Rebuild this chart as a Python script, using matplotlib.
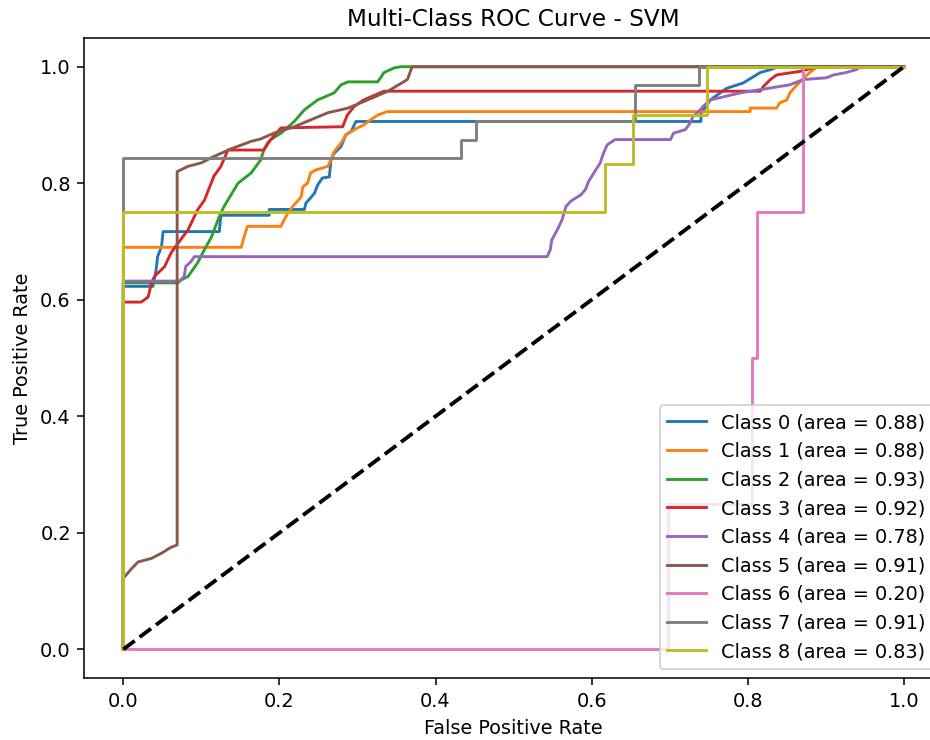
import matplotlib
matplotlib.use("Agg")
import matplotlib.pyplot as plt

# ROC points, one pair of lists per class
fpr0 = [0, 0, 0.038, 0.042, 0.044, 0.049, 0.051, 0.123, 0.125, 0.187, 0.187, 0.232, 0.234, 0.24, 0.245, 0.249,
        0.255, 0.264, 0.266, 0.27, 0.279, 0.285, 0.292, 0.298, 0.74, 0.74, 0.752, 0.773, 0.794, 0.816, 0.829, 0.84, 1.0]
tpr0 = [0, 0.623, 0.623, 0.651, 0.674, 0.691, 0.717, 0.717, 0.745, 0.745, 0.755, 0.755, 0.766, 0.775, 0.783, 0.797,
        0.809, 0.811, 0.84, 0.851, 0.863, 0.883, 0.889, 0.906, 0.906, 0.92, 0.943, 0.963, 0.972, 0.99, 0.995, 1.0, 1.0]

fpr1 = [0, 0, 0.151, 0.155, 0.159, 0.202, 0.206, 0.211, 0.217, 0.223, 0.228, 0.23, 0.236, 0.24, 0.247, 0.262, 0.266,
        0.27, 0.279, 0.285, 0.3, 0.308, 0.317, 0.326, 0.338, 0.803, 0.803, 0.837, 0.841, 0.85, 0.854, 0.861, 0.867,
        0.876, 0.884, 0.89, 1.0]
tpr1 = [0, 0.69, 0.69, 0.709, 0.726, 0.726, 0.737, 0.749, 0.76, 0.769, 0.777, 0.794, 0.80, 0.818, 0.823, 0.829, 0.84,
        0.854, 0.869, 0.883, 0.895, 0.90, 0.909, 0.917, 0.923, 0.923, 0.929, 0.929, 0.938, 0.943, 0.955, 0.966, 0.974,
        0.986, 0.995, 1.0, 1.0]

fpr2 = [0, 0, 0.07, 0.074, 0.083, 0.095, 0.104, 0.113, 0.123, 0.129, 0.147, 0.164, 0.176, 0.18, 0.189, 0.202, 0.219,
        0.232, 0.249, 0.27, 0.279, 0.288, 0.326, 0.334, 0.347, 0.355, 1.0]
tpr2 = [0, 0.629, 0.629, 0.634, 0.64, 0.663, 0.686, 0.708, 0.743, 0.76, 0.80, 0.818, 0.84, 0.857, 0.875, 0.886, 0.906,
        0.926, 0.943, 0.955, 0.969, 0.974, 0.974, 0.99, 0.998, 1.0, 1.0]

fpr3 = [0, 0, 0.023, 0.032, 0.036, 0.04, 0.053, 0.061, 0.07, 0.083, 0.095, 0.104, 0.116, 0.125, 0.134, 0.18, 0.185,
        0.202, 0.281, 0.287, 0.296, 0.308, 0.334, 0.816, 0.82, 0.829, 0.837, 0.867, 0.889, 1.0]
tpr3 = [0, 0.596, 0.596, 0.605, 0.629, 0.64, 0.657, 0.68, 0.697, 0.72, 0.754, 0.771, 0.812, 0.829, 0.857, 0.857, 0.869,
        0.895, 0.897, 0.917, 0.932, 0.943, 0.958, 0.958, 0.966, 0.978, 0.986, 0.992, 1.0, 1.0]

fpr4 = [0, 0, 0.072, 0.078, 0.08, 0.087, 0.091, 0.543, 0.547, 0.549, 0.556, 0.562, 0.567, 0.573, 0.586, 0.592, 0.596,
        0.603, 0.611, 0.615, 0.62, 0.63, 0.701, 0.705, 0.72, 0.726, 0.73, 0.737, 0.743, 0.752, 0.79, 0.854, 0.871,
        0.901, 0.91, 0.926, 0.939, 0.945, 1.0]
tpr4 = [0, 0.632, 0.632, 0.64, 0.657, 0.666, 0.674, 0.674, 0.686, 0.703, 0.72, 0.737, 0.76, 0.769, 0.78, 0.789, 0.803,
        0.818, 0.835, 0.851, 0.866, 0.875, 0.875, 0.886, 0.892, 0.903, 0.915, 0.923, 0.932, 0.943, 0.955, 0.969, 0.978,
        0.981, 0.986, 0.99, 0.995, 1.0, 1.0]

fpr5 = [0, 0, 0.011, 0.019, 0.036, 0.049, 0.061, 0.069, 0.069, 0.083, 0.1, 0.113, 0.138, 0.164, 0.176, 0.193, 0.219,
        0.262, 0.288, 0.313, 0.339, 0.364, 0.37, 1.0]
tpr5 = [0, 0.122, 0.139, 0.15, 0.156, 0.165, 0.175, 0.179, 0.82, 0.829, 0.835, 0.844, 0.859, 0.872, 0.876, 0.886,
        0.897, 0.921, 0.929, 0.943, 0.958, 0.978, 1.0, 1.0]

fpr6 = [0, 0.698, 0.698, 0.806, 0.806, 0.812, 0.812, 0.871, 0.871, 1.0]
tpr6 = [0, 0, 0.25, 0.25, 0.5, 0.5, 0.75, 0.75, 1.0, 1.0]

fpr7 = [0, 0, 0.432, 0.432, 0.452, 0.452, 0.655, 0.655, 0.738, 0.738, 1.0]
tpr7 = [0, 0.844, 0.844, 0.875, 0.875, 0.906, 0.906, 0.969, 0.969, 1.0, 1.0]

fpr8 = [0, 0, 0.617, 0.617, 0.653, 0.653, 0.748, 0.748, 1.0]
tpr8 = [0, 0.75, 0.75, 0.833, 0.833, 0.917, 0.917, 1.0, 1.0]

areas = [0.88, 0.88, 0.93, 0.92, 0.78, 0.91, 0.20, 0.91, 0.83]

all_fpr = [fpr0, fpr1, fpr2, fpr3, fpr4, fpr5, fpr6, fpr7, fpr8]
all_tpr = [tpr0, tpr1, tpr2, tpr3, tpr4, tpr5, tpr6, tpr7, tpr8]

dpi = 138.5
fig = plt.figure(figsize=(930 / dpi, 740 / dpi), dpi=dpi)
ax = fig.add_axes([0.0906, 0.0832, 0.9233, 0.866])

for i in range(len(areas)):
    ax.plot(all_fpr[i], all_tpr[i], lw=1.5, label=f'Class {i} (area = {areas[i]:0.2f})')

ax.plot([0, 1], [0, 1], 'k--', lw=2)
ax.set_xlabel('False Positive Rate')
ax.set_ylabel('True Positive Rate')
ax.set_title('Multi-Class ROC Curve - SVM')
ax.legend(loc='lower right')
# the reference is cut off on the right, so its right spine never shows
ax.spines['right'].set_visible(False)

fig.savefig('out.png', dpi=dpi)
plt.close(fig)
